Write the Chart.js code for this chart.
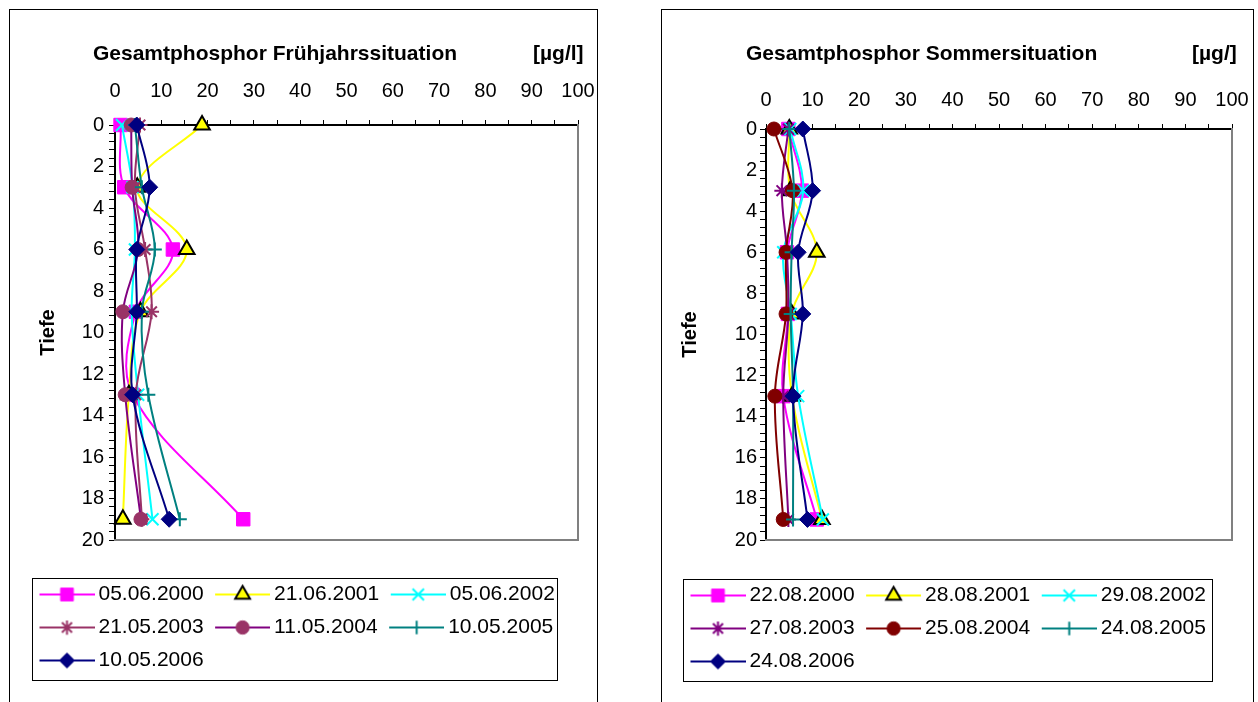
<!DOCTYPE html>
<html>
<head>
<meta charset="utf-8">
<script src="https://cdn.jsdelivr.net/npm/chart.js@4/dist/chart.umd.min.js"></script>
<style>
body { margin: 0; width: 1258px; height: 702px; overflow: hidden; position: relative; background: #fff; }
.frame { position: absolute; border: 1px solid #000; box-sizing: border-box; }
canvas { position: absolute; }
</style>
</head>
<body>
<div class="frame" style="left:9px;top:9px;width:589px;height:720px"></div>
<div class="frame" style="left:661px;top:9px;width:593px;height:720px"></div>
<canvas id="spring" style="left:10px;top:10px" width="620" height="692"></canvas>
<canvas id="summer" style="left:662px;top:10px" width="610" height="692"></canvas>
<script>
// depths of the samples (m) and tick labels
const depths = [0, 3, 6, 9, 13, 19];
const valueTickLabels = [0, 10, 20, 30, 40, 50, 60, 70, 80, 90, 100];
const depthTickLabels = [0, 2, 4, 6, 8, 10, 12, 14, 16, 18, 20];

// spring campaign, total phosphorus in µg/l per depth
const springDates = ['05.06.2000', '21.06.2001', '05.06.2002', '21.05.2003', '11.05.2004', '10.05.2005', '10.05.2006'];
const spring2000 = [1.2, 2.0, 12.5, 4.5, 3.8, 27.7];
const spring2001 = [18.8, 4.8, 15.5, 5.5, 3.0, 1.7];
const spring2002 = [1.5, 3.8, 4.3, 3.6, 5.0, 8.1];
const spring2003 = [5.4, 4.3, 6.5, 7.9, 4.5, 5.8];
const spring2004 = [3.5, 3.7, 5.0, 1.7, 2.2, 5.6];
const spring2005 = [4.3, 5.8, 8.6, 5.8, 7.2, 14.0];
const spring2006 = [4.7, 7.5, 4.7, 4.7, 3.8, 11.7];

// summer campaign
const summerDates = ['22.08.2000', '28.08.2001', '29.08.2002', '27.08.2003', '25.08.2004', '24.08.2005', '24.08.2006'];
const summer2000 = [4.8, 7.7, 4.5, 4.7, 3.7, 10.9];
const summer2001 = [5.0, 5.2, 10.9, 5.5, 5.6, 12.0];
const summer2002 = [5.2, 8.0, 3.7, 5.3, 6.9, 12.2];
const summer2003 = [4.8, 3.4, 4.5, 4.8, 3.7, 4.8];
const summer2004 = [1.7, 5.7, 4.3, 4.3, 1.9, 3.7];
const summer2005 = [5.0, 6.0, 5.5, 5.3, 5.8, 5.8];
const summer2006 = [7.9, 10.0, 6.9, 7.9, 5.8, 8.9];

const FONT = '"Liberation Sans", Arial, sans-serif';

// excel-like series looks
const square  = {line: '#FF00FF', marker: 'rect',     radius: 9.5, fill: '#FF00FF', edge: '#FF00FF', edgeWidth: 1};
const tri     = {line: '#FFFF00', marker: 'triangle', radius: 9,   fill: '#FFFF00', edge: '#000000', edgeWidth: 2};
const xmark   = {line: '#00FFFF', marker: 'crossRot', radius: 8.5, fill: '#00FFFF', edge: '#00FFFF', edgeWidth: 2};
const diamond = {line: '#000080', marker: 'rectRot',  radius: 8,   fill: '#000080', edge: '#000080', edgeWidth: 1};
const plus    = {line: '#008080', marker: 'cross',    radius: 7,   fill: '#008080', edge: '#008080', edgeWidth: 2};

const springStyles = [square, tri, xmark,
    {line: '#993366', marker: 'star', radius: 7.5, fill: '#993366', edge: '#993366', edgeWidth: 2},
    {line: '#800080', marker: 'circle', radius: 7, fill: '#993366', edge: '#993366', edgeWidth: 1},
    plus, diamond];
const summerStyles = [square, tri, xmark,
    {line: '#800080', marker: 'star', radius: 7.5, fill: '#800080', edge: '#800080', edgeWidth: 2},
    {line: '#800000', marker: 'circle', radius: 7, fill: '#800000', edge: '#800000', edgeWidth: 1},
    plus, diamond];

function isOneOf(v, list) {
    return list.some(t => Math.abs(t - v) < 1e-6);
}

// legend symbol: short line with the marker in the middle
function makeIcon(st) {
    let c = document.createElement('canvas');
    c.width = 61; c.height = 22;
    let g = c.getContext('2d');
    g.strokeStyle = st.line; g.lineWidth = 2;
    g.beginPath(); g.moveTo(6, 11); g.lineTo(61, 11); g.stroke();
    g.fillStyle = st.fill; g.strokeStyle = st.edge; g.lineWidth = st.edgeWidth;
    Chart.helpers.drawPoint(g, {pointStyle: st.marker, radius: st.radius * 0.95, rotation: 0, borderWidth: st.edgeWidth}, 33.5, 11);
    return c;
}

const decor = {
    id: 'decor',
    afterDraw(chart, args, o) {
        let ctx = chart.ctx, lg = chart.legend;
        ctx.save();
        ctx.fillStyle = '#000';
        ctx.font = 'bold 21px ' + FONT;
        ctx.textBaseline = 'middle';
        ctx.fillText(o.title, o.titleX, o.titleY);
        ctx.fillText(o.unit, o.unitX, o.titleY);
        ctx.strokeStyle = '#000';
        ctx.lineWidth = 1;
        ctx.strokeRect(lg.left + 4.5, lg.top + 6.5, o.boxW, o.boxH);
        ctx.restore();
    }
};

function buildChart(canvasId, dates, series, styles, L) {
    let icons = styles.map(makeIcon);
    let datasets = dates.map((label, i) => ({
        label: label,
        data: depths.map((d, k) => ({x: series[i][k], y: d})),
        borderColor: styles[i].line,
        borderWidth: 2,
        tension: 0.35,
        fill: false,
        clip: false,
        pointStyle: styles[i].marker,
        pointRadius: styles[i].radius,
        pointHoverRadius: styles[i].radius,
        pointBackgroundColor: styles[i].fill,
        pointBorderColor: styles[i].edge,
        pointBorderWidth: styles[i].edgeWidth,
        order: dates.length - i
    }));
    return new Chart(document.getElementById(canvasId), {
        type: 'line',
        data: {datasets: datasets},
        plugins: [decor],
        options: {
            responsive: false,
            animation: false,
            events: [],
            indexAxis: 'y',
            layout: {padding: {left: L.padLeft, right: 0, top: 0, bottom: L.padBottom}},
            scales: {
                x: {
                    type: 'linear', position: 'top', min: 0, max: 100,
                    afterFit: s => { s.height = L.xHeight; },
                    ticks: {
                        stepSize: 5, autoSkip: false, maxRotation: 0, padding: L.xPad, color: '#000',
                        font: {family: FONT, size: 20},
                        callback: v => isOneOf(v, valueTickLabels) ? String(Math.round(v)) : ''
                    },
                    grid: {drawOnChartArea: false, tickLength: 5, color: '#000'},
                    border: {color: '#000', width: 2}
                },
                y: {
                    type: 'linear', position: 'left', reverse: true, min: 0, max: 20,
                    afterFit: s => { s.width = L.yWidth; },
                    ticks: {
                        stepSize: 0.4, autoSkip: false, padding: L.yPad, color: '#000',
                        font: {family: FONT, size: 20},
                        callback: v => isOneOf(v, depthTickLabels) ? String(Math.round(v)) : ''
                    },
                    grid: {drawOnChartArea: false, tickLength: 6, color: '#000'},
                    border: {color: '#000', width: 2},
                    title: {
                        display: true, text: 'Tiefe', color: '#000',
                        font: {family: FONT, size: 20, weight: 'bold'},
                        padding: {top: L.tiefePad, bottom: 0}
                    }
                },
                x2: {
                    type: 'linear', position: 'bottom', min: 0, max: 100,
                    afterFit: s => { s.height = L.gap; },
                    ticks: {display: false}, grid: {display: false},
                    border: {display: true, color: '#808080', width: 2}
                },
                y2: {
                    type: 'linear', position: 'right', min: 0, max: 20,
                    afterFit: s => { s.width = L.rightW; },
                    ticks: {display: false}, grid: {display: false},
                    border: {display: true, color: '#808080', width: 2}
                }
            },
            plugins: {
                tooltip: {enabled: false},
                title: {display: false},
                legend: {
                    position: 'bottom',
                    align: 'start',
                    labels: {
                        usePointStyle: true,
                        pointStyleWidth: 48,
                        padding: 12,
                        color: '#000',
                        font: {family: FONT, size: 21},
                        generateLabels: chart => chart.data.datasets.map((ds, i) => ({
                            text: ds.label,
                            pointStyle: icons[i],
                            datasetIndex: i,
                            hidden: false,
                            lineWidth: 0,
                            fillStyle: 'rgba(0,0,0,0)',
                            strokeStyle: 'rgba(0,0,0,0)'
                        }))
                    }
                },
                decor: {
                    title: L.title, unit: L.unit,
                    titleX: L.titleX, unitX: L.unitX, titleY: 44,
                    boxW: L.boxW, boxH: 102
                }
            }
        }
    });
}

buildChart('spring', springDates,
    [spring2000, spring2001, spring2002, spring2003, spring2004, spring2005, spring2006], springStyles,
    {padLeft: 18, padBottom: 21, yWidth: 87, rightW: 52, xHeight: 115, gap: 32,
     xPad: 17, yPad: 5, tiefePad: 8,
     title: 'Gesamtphosphor Frühjahrssituation', unit: '[µg/l]', titleX: 83, unitX: 523, boxW: 525});

buildChart('summer', summerDates,
    [summer2000, summer2001, summer2002, summer2003, summer2004, summer2005, summer2006], summerStyles,
    {padLeft: 17, padBottom: 20, yWidth: 87, rightW: 40, xHeight: 119, gap: 33,
     xPad: 12, yPad: 3, tiefePad: -1,
     title: 'Gesamtphosphor Sommersituation', unit: '[µg/]', titleX: 84, unitX: 530, boxW: 529});
</script>
</body>
</html>
